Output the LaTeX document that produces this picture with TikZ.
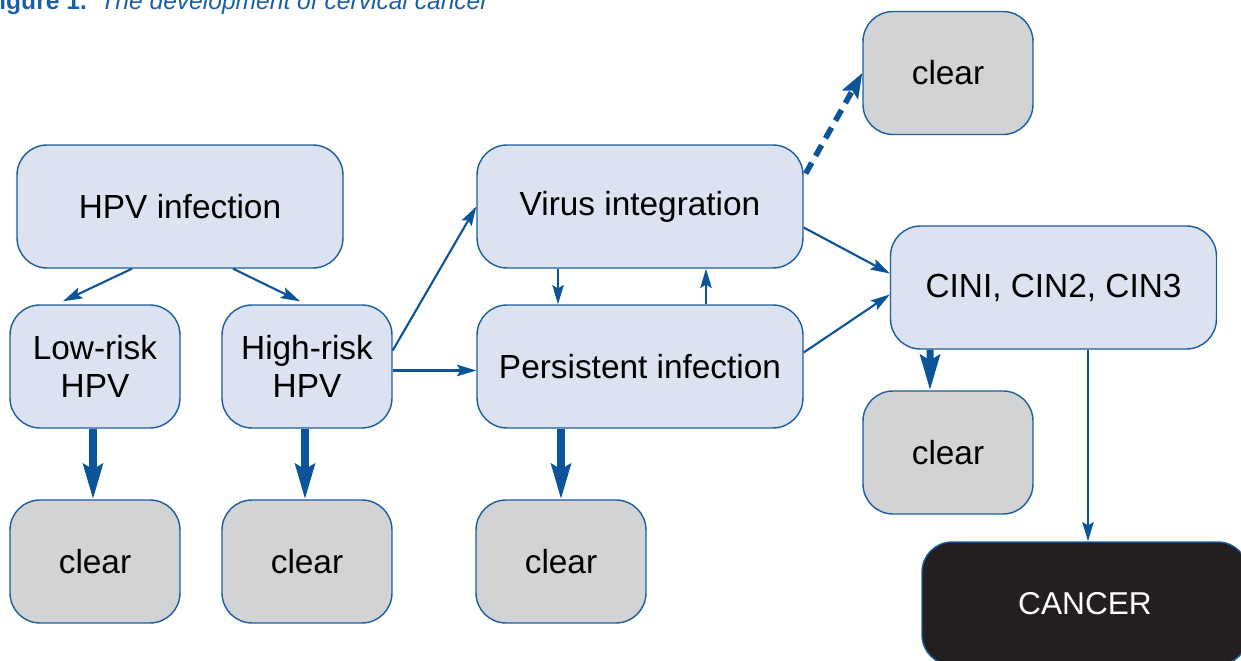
\documentclass[tikz,border=0pt]{standalone}
\usepackage{fontspec}
\setmainfont{Liberation Sans}
\usetikzlibrary{arrows.meta,calc}
\definecolor{boxfill}{HTML}{DCE2F0}
\definecolor{boxline}{HTML}{1C5DA0}
\definecolor{cleargrey}{HTML}{D1D3D4}
\definecolor{cancerblack}{HTML}{231F20}
\definecolor{arrowblue}{HTML}{0B5499}
\definecolor{titleblue}{HTML}{1B5FA8}
\begin{document}
\begin{tikzpicture}[x=0.02cm,y=-0.02cm,
  box/.style={draw=boxline,line width=0.8pt,rounded corners=0.6cm,fill=boxfill,
    minimum width=6.52cm,minimum height=2.46cm,inner sep=0pt,align=center,
    font=\fontsize{19}{21.5}\selectfont},
  smallbox/.style={box,minimum width=3.4cm},
  clearbox/.style={smallbox,fill=cleargrey},
  thinarrow/.style={draw=arrowblue,line width=1.2pt,-{Stealth[length=11pt,width=6.5pt,inset=2pt]}},
  thickarrow/.style={draw=arrowblue,line width=4pt,-{Stealth[length=20pt,width=11pt,inset=3pt]}},
  dasharrow/.style={draw=arrowblue,line width=3.2pt,dash pattern=on 7pt off 4.5pt,-{Stealth[length=14pt,width=10pt,inset=2.5pt]}}
]
\useasboundingbox (0,0) rectangle (1241,661);
\node[anchor=base west,inner sep=0pt,text=titleblue,font=\fontsize{14}{16}\selectfont] (title) at (-16,10)
  {\textbf{Figure 1.}\hspace{0.55em}\textit{The development of cervical cancer}};

\node[box] (hpv) at (180,206.5) {HPV infection};
\node[smallbox] (low) at (95,366.5) {Low-risk\\HPV};
\node[smallbox] (high) at (307,366.5) {High-risk\\HPV};
\node[box] (virus) at (640,206.5) {Virus integration};
\node[box] (pers) at (640,366.5) {Persistent infection};
\node[box] (cin) at (1053.5,287.5) {CINI, CIN2, CIN3};
\node[clearbox] (c1) at (95,561.5) {clear};
\node[clearbox] (c2) at (307,561.5) {clear};
\node[clearbox] (c3) at (561,561.5) {clear};
\node[clearbox] (ctop) at (948,73) {clear};
\node[clearbox] (cmid) at (948,452.5) {clear};
\node[box,fill=cancerblack,text=white,font=\fontsize{18}{21}\selectfont] (cancer) at (1085,603.5) {CANCER};

\draw[thinarrow] ([xshift=-0.96cm]hpv.south) -- ([xshift=-0.64cm,yshift=0.06cm]low.north);
\draw[thinarrow] ([xshift=1.06cm]hpv.south) -- ([xshift=-0.14cm,yshift=0.06cm]high.north);
\draw[thinarrow] ([yshift=0.32cm]high.east) -- (virus.west);
\draw[thinarrow] ([yshift=-0.08cm]high.east) -- ([yshift=-0.08cm]pers.west);
\draw[thinarrow] ([xshift=-1.64cm]virus.south) -- ([xshift=-1.64cm]pers.north);
\draw[thinarrow] ([xshift=1.32cm]pers.north) -- ([xshift=1.32cm]virus.south);
\draw[thinarrow] ([yshift=-0.42cm]virus.east) -- ([yshift=0.28cm]cin.west);
\draw[thinarrow] ([yshift=0.28cm]pers.east) -- ([yshift=-0.14cm]cin.west);
\draw[dasharrow] ([xshift=0.04cm,yshift=0.66cm]virus.east) -- (ctop.west);
\draw[thickarrow] ([xshift=-2.47cm]cin.south) -- ([xshift=-0.36cm]cmid.north);
\draw[thinarrow] ([xshift=0.69cm]cin.south) -- ([xshift=0.69cm]cin.south |- cancer.north);
\draw[thickarrow] ([xshift=-0.04cm]low.south) -- ([xshift=-0.04cm]c1.north);
\draw[thickarrow] ([xshift=-0.04cm]high.south) -- ([xshift=-0.04cm]c2.north);
\draw[thickarrow] (pers.south -| c3.north) -- (c3.north);
\end{tikzpicture}
\end{document}
